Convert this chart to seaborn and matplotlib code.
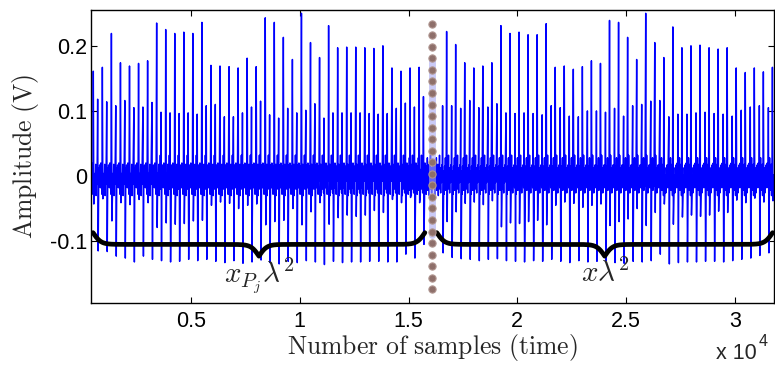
import numpy as np
import matplotlib
matplotlib.use('Agg')
import matplotlib.pyplot as plt
import seaborn as sns


############################################################################################################################################
# DATA

# sample range shown on the x axis
x_limits = [404, 31800]
y_limits = [-0.195, 0.255]

# beat timing, in samples
beat_interval = 416
seg1_tall_start = 510
seg1_short_start = 710
seg2_short_start = 16566
seg2_tall_start = 16751

# first signal (x_Pj lambda^2): peak heights of the tall and short spikes
seg1_tall_peaks = [0.161, 0.167, 0.219, 0.174, 0.169, 0.173, 0.177, 0.235, 0.225, 0.219, 0.221, 0.219, 0.236,
                   0.170, 0.169, 0.168, 0.166, 0.181, 0.168, 0.243, 0.236, 0.213, 0.179, 0.250, 0.205,
                   0.182, 0.231, 0.197, 0.198, 0.198, 0.197, 0.196, 0.200, 0.166, 0.161, 0.166, 0.167]
seg1_short_peaks = [0.118, 0.114, 0.108, 0.116, 0.105, 0.106, 0.113, 0.098, 0.097, 0.096, 0.097, 0.095,
                    0.108, 0.110, 0.091, 0.091, 0.097, 0.106, 0.115, 0.094, 0.089, 0.104, 0.097, 0.101, 0.111,
                    0.089, 0.097, 0.097, 0.097, 0.097, 0.096, 0.095, 0.096, 0.104, 0.112, 0.106, 0.122]
seg1_tall_troughs = [-0.043, -0.035, -0.069, -0.041, -0.044, -0.036, -0.041, -0.079, -0.072, -0.074, -0.073, -0.069, -0.068,
                     -0.045, -0.040, -0.042, -0.050, -0.045, -0.043, -0.075, -0.070, -0.068, -0.050, -0.075, -0.055,
                     -0.041, -0.074, -0.064, -0.060, -0.062, -0.060, -0.053, -0.056, -0.036, -0.041, -0.033, -0.041]
seg1_short_troughs = [-0.115, -0.116, -0.123, -0.126, -0.132, -0.123, -0.128, -0.130, -0.132, -0.131, -0.128, -0.130,
                      -0.128, -0.131, -0.133, -0.130, -0.134, -0.132, -0.129, -0.133, -0.135, -0.131, -0.133, -0.130, -0.132,
                      -0.136, -0.131, -0.133, -0.132, -0.132, -0.131, -0.131, -0.132, -0.132, -0.120, -0.126, -0.105]

# second signal (x lambda^2)
seg2_tall_peaks = [0.222, 0.202, 0.174, 0.166, 0.169, 0.174, 0.231, 0.219, 0.221, 0.217, 0.217,
                   0.234, 0.167, 0.169, 0.164, 0.168, 0.177, 0.173, 0.239, 0.236, 0.213, 0.179, 0.250, 0.205,
                   0.182, 0.229, 0.197, 0.200, 0.201, 0.197, 0.195, 0.197, 0.166, 0.159, 0.166, 0.160, 0.167]
seg2_short_peaks = [0.108, 0.108, 0.104, 0.116, 0.105, 0.106, 0.111, 0.097, 0.096, 0.097, 0.096, 0.094,
                    0.108, 0.105, 0.092, 0.091, 0.100, 0.100, 0.098, 0.104, 0.092, 0.108, 0.110, 0.115,
                    0.116, 0.091, 0.095, 0.095, 0.097, 0.098, 0.096, 0.095, 0.092, 0.101, 0.106, 0.108, 0.105]
seg2_tall_troughs = [-0.070, -0.055, -0.042, -0.040, -0.044, -0.038, -0.078, -0.072, -0.073, -0.070, -0.068,
                     -0.075, -0.045, -0.040, -0.042, -0.048, -0.045, -0.043, -0.076, -0.070, -0.066, -0.050, -0.076, -0.056,
                     -0.043, -0.074, -0.063, -0.060, -0.062, -0.060, -0.054, -0.056, -0.037, -0.041, -0.034, -0.040, -0.038]
seg2_short_troughs = [-0.118, -0.125, -0.127, -0.128, -0.130, -0.128, -0.127, -0.130, -0.131, -0.132, -0.130, -0.131,
                      -0.128, -0.131, -0.133, -0.130, -0.132, -0.131, -0.130, -0.133, -0.134, -0.131, -0.132, -0.130,
                      -0.120, -0.135, -0.133, -0.132, -0.132, -0.131, -0.131, -0.132, -0.130, -0.128, -0.126, -0.122, -0.118]

# small wiggles of the baseline between spikes (cycled along the signal)
baseline_wiggle = [0.012, -0.018, 0.020, -0.012, 0.008, -0.028, 0.015, -0.008, 0.028, -0.022, 0.004, -0.016,
                   0.018, -0.030, 0.010, -0.013, 0.032, -0.020, 0.002, -0.026, 0.013, -0.010, 0.017]
wiggle_step = 18

# junction between the two signals (dotted line) and braces
junction_sample = 16100
junction_y = [0.234, -0.174]
brace_starts = [497, 16300]
brace_ends = [15750, 31735]
brace_y = -0.105
brace_labels = [r'$x_{P_j}\lambda^2$', r'$x\lambda^2$']

x_ticks = [5000, 10000, 15000, 20000, 25000, 30000]
x_tick_labels = ['0.5', '1', '1.5', '2', '2.5', '3']
y_ticks = [-0.1, 0, 0.1, 0.2]
y_tick_labels = ['-0.1', '0', '0.1', '0.2']

############################################################################################################################################


# builds the signal: baseline wiggles plus one (peak, trough) pair per spike
def montaSinal():

    spike_t = []
    spike_peak = []
    spike_trough = []
    trains = [(seg1_tall_start, seg1_tall_peaks, seg1_tall_troughs),
              (seg1_short_start, seg1_short_peaks, seg1_short_troughs),
              (seg2_short_start, seg2_short_peaks, seg2_short_troughs),
              (seg2_tall_start, seg2_tall_peaks, seg2_tall_troughs)]
    for start, peaks, troughs in trains:
        for k in range(len(peaks)):
            spike_t.append(start + k * beat_interval)
            spike_peak.append(peaks[k])
            spike_trough.append(troughs[k])
    spike_t = np.array(spike_t)

    t_base = np.arange(x_limits[0], x_limits[1], wiggle_step)
    v_base = np.resize(np.array(baseline_wiggle), len(t_base))

    # drop baseline points too close to a spike
    keep = np.ones(len(t_base), dtype=bool)
    for t in spike_t:
        keep &= ~((t_base > t - 14) & (t_base < t + 40))

    t_all = np.concatenate([t_base[keep], spike_t, spike_t + 24])
    v_all = np.concatenate([v_base[keep], spike_peak, spike_trough])
    order = np.argsort(t_all, kind='stable')
    return t_all[order], v_all[order]


# curly brace pointing down, drawn in data coordinates
def desenhaChave(ax, x0, x1, y_flat, height=0.036, beta=0.0055):

    n = 3001
    x = np.linspace(x0, x1, n)
    half = x[:n // 2 + 1]
    v = 1 / (1 + np.exp(-beta * (half - half[0]))) + 1 / (1 + np.exp(-beta * (half - half[-1])))
    v = np.concatenate((v, v[-2::-1]))
    y = y_flat - (v - 1) * height
    ax.plot(x, y, color='black', lw=3.4, solid_capstyle='round', zorder=4)


############################################################################################################################################

sns.set_style('ticks')
plt.rcParams['font.family'] = ['Liberation Sans', 'DejaVu Sans']
plt.rcParams['mathtext.fontset'] = 'cm'
plt.rcParams['axes.unicode_minus'] = False

fig = plt.figure(figsize=(7.75, 3.65), dpi=100)
ax = fig.add_axes([91 / 775, 62 / 365, 683 / 775, 293 / 365])

t, v = montaSinal()
sns.lineplot(x=t, y=v, ax=ax, color='#0000ff', lw=1.05, estimator=None, sort=False)

# faint column and dotted marker at the junction of the two signals
ax.plot([junction_sample, junction_sample], [-0.09, 0.18], color='#a8a8f0', lw=5, alpha=0.6, zorder=3)
dots_y = np.linspace(junction_y[0], junction_y[1], 24)
ax.plot([junction_sample] * len(dots_y), dots_y, ls='none', marker='o', ms=5.2,
        color='#8e6f6a', mec='#b09590', mew=0.8, zorder=5)

for i in range(len(brace_starts)):
    desenhaChave(ax, brace_starts[i], brace_ends[i], brace_y)
    ax.text((brace_starts[i] + brace_ends[i]) / 2, -0.163, brace_labels[i], fontsize=21,
            ha='center', va='baseline', zorder=6)

ax.set_xlim(x_limits)
ax.set_ylim(y_limits)
ax.set_xticks(x_ticks)
ax.set_xticklabels(x_tick_labels)
ax.set_yticks(y_ticks)
ax.set_yticklabels(y_tick_labels)
ax.tick_params(direction='in', length=4.3, width=0.8, top=True, right=True, labelsize=15.5, colors='black')
ax.tick_params(axis='x', pad=5.5)
ax.tick_params(axis='y', pad=2.5)
for s in ax.spines.values():
    s.set_visible(True)
    s.set_color('black')
    s.set_linewidth(1.0)

ax.set_xlabel(r'$\mathrm{Number\ of\ samples\ (time)}$', fontsize=18.5)
ax.set_ylabel(r'$\mathrm{Amplitude\ (V)}$', fontsize=18.5)
ax.xaxis.set_label_coords(0.5, -0.1)
ax.yaxis.set_label_coords(-0.073, 0.5)

fig.text(716 / 775, 6 / 365, 'x 10', fontsize=15.5, ha='left', va='baseline')
fig.text(759 / 775, 19 / 365, '4', fontsize=11.5, ha='left', va='baseline')

plt.savefig('out.png', dpi=100)
